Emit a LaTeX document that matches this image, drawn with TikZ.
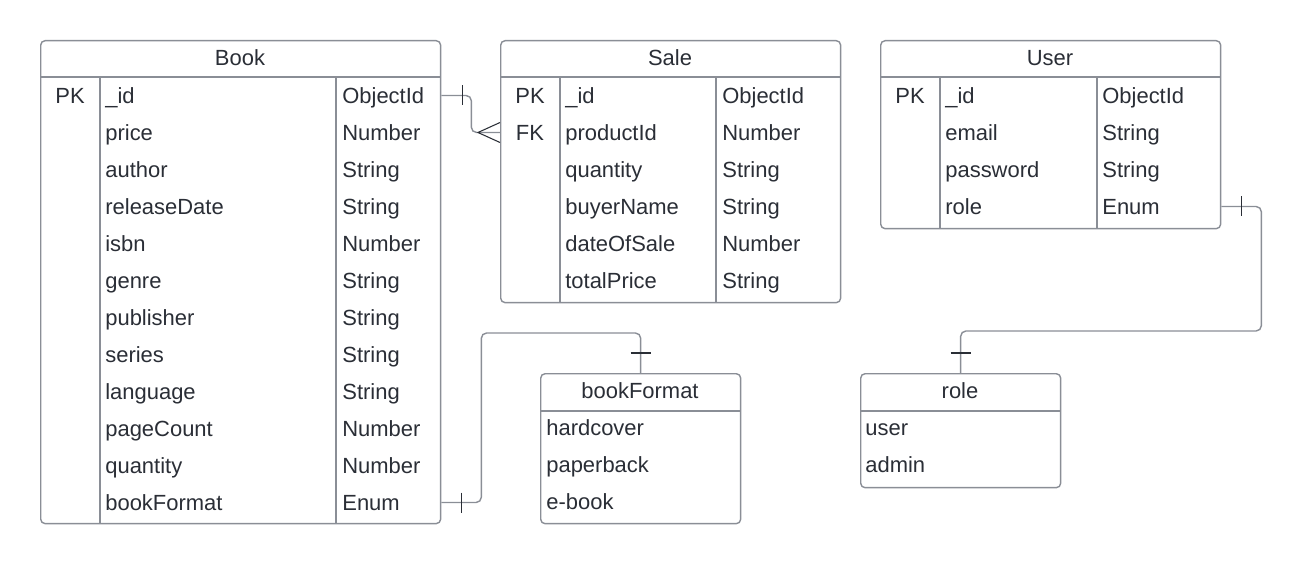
\documentclass[tikz,border=0pt]{standalone}
\usepackage{fontspec}
\setmainfont{Liberation Sans}
\usetikzlibrary{calc}
\definecolor{linegray}{RGB}{138,142,150}
\definecolor{ink}{RGB}{42,46,54}
\tikzset{tbl/.style = {draw=linegray, line width=0.8pt, rounded corners=2.5pt, anchor=north west, inner sep=0pt},
         grid/.style = {draw=linegray, line width=0.8pt},
         cell/.style = {anchor=west, inner sep=0pt, text=ink, text height=9pt, text depth=0pt, font=\fontsize{12.5}{15}\selectfont},
         head/.style = {cell, anchor=center},
         rel/.style = {draw=linegray, line width=0.8pt, rounded corners=3pt},
         tick/.style = {draw=ink, line width=0.6pt}}

\begin{document}
\begin{tikzpicture}[x=0.02cm,y=-0.02cm]
        \useasboundingbox (0,0) rectangle (1301,564);
        % Book
        \node[tbl, minimum width=8cm, minimum height=9.66cm](book) at (40,40) {};
        \node[head](book-h) at (240,58) {Book};
        \draw[grid] (40,77)--(440,77) (100,77)--(100,523) (336,77)--(336,523);
        \node[head](book-pk) at (70,96) {PK};
        \foreach \f/\t [count=\i] in {\_id/ObjectId, price/Number, author/String, releaseDate/String,
            isbn/Number, genre/String, publisher/String, series/String, language/String,
            pageCount/Number, quantity/Number, bookFormat/Enum}
        {
            \node[cell](book-\i) at (105,{58.5+37*\i}) {\f};
            \node[cell](book-t\i) at (342,{58.5+37*\i}) {\t};
        }

        % Sale
        \node[tbl, minimum width=6.8cm, minimum height=5.24cm](sale) at (500,40) {};
        \node[head](sale-h) at (670,58) {Sale};
        \draw[grid] (500,77)--(840,77) (560,77)--(560,302) (716,77)--(716,302);
        \node[head](sale-pk) at (530,96) {PK};
        \node[head](sale-fk) at (530,133) {FK};
        \foreach \f/\t [count=\i] in {\_id/ObjectId, productId/Number, quantity/String,
            buyerName/String, dateOfSale/Number, totalPrice/String}
        {
            \node[cell](sale-\i) at (565,{58.5+37*\i}) {\f};
            \node[cell](sale-t\i) at (722,{58.5+37*\i}) {\t};
        }

        % User
        \node[tbl, minimum width=6.8cm, minimum height=3.76cm](user) at (880,40) {};
        \node[head](user-h) at (1050,58) {User};
        \draw[grid] (880,77)--(1220,77) (940,77)--(940,228) (1097,77)--(1097,228);
        \node[head](user-pk) at (910,96) {PK};
        \foreach \f/\t [count=\i] in {\_id/ObjectId, email/String, password/String, role/Enum}
        {
            \node[cell](user-\i) at (945,{58.5+37*\i}) {\f};
            \node[cell](user-t\i) at (1102,{58.5+37*\i}) {\t};
        }

        % bookFormat
        \node[tbl, minimum width=4cm, minimum height=3cm](fmt) at (540,373) {};
        \node[head](fmt-h) at (640,391) {bookFormat};
        \draw[grid] (540,411)--(740,411);
        \foreach \f [count=\i] in {hardcover, paperback, e-book}
            \node[cell](fmt-\i) at (546,{391+37*\i}) {\f};

        % role
        \node[tbl, minimum width=4cm, minimum height=2.28cm](role) at (860,373) {};
        \node[head](role-h) at (960,391) {role};
        \draw[grid] (860,411)--(1060,411);
        \foreach \f [count=\i] in {user, admin}
            \node[cell](role-\i) at (865,{391+37*\i}) {\f};

        % relations
        \draw[rel] (book-1 -| book.east) -- ++(30,0) |- (sale-2 -| sale.west);
        \draw[tick] (book-1 -| book.east) ++(21,-10) -- ++(0,20);
        \draw[tick] (sale-2 -| sale.west) ++(0,-10) -- ++(-22,10) -- ++(22,10);

        \draw[rel] (book-12 -| book.east) -- ++(40,0) |- ($(fmt.north)+(0,-40)$) -- (fmt.north);
        \draw[tick] (book-12 -| book.east) ++(20,-10) -- ++(0,20);
        \draw[tick] (fmt.north) ++(-10,-20) -- ++(20,0);

        \draw[rel] (user-4 -| user.east) -- ++(40,0) |- ($(role.north)+(0,-42)$) -- (role.north);
        \draw[tick] (user-4 -| user.east) ++(20,-10) -- ++(0,20);
        \draw[tick] (role.north) ++(-10,-20) -- ++(20,0);
    \end{tikzpicture}
\end{document}
